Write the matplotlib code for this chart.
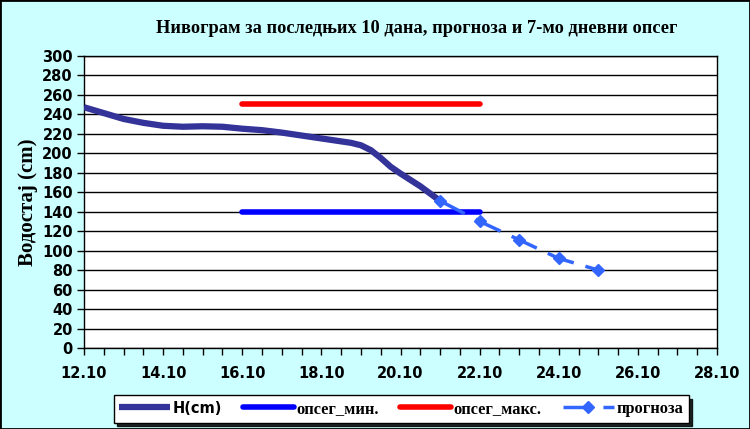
import matplotlib
matplotlib.use("Agg")
import matplotlib.pyplot as plt
from matplotlib.patches import Rectangle
from matplotlib.ticker import MultipleLocator, FuncFormatter

# Подаци (дан у октобру)
h_days = [12.0, 12.5, 13.0, 13.5, 14.0, 14.5, 15.0, 15.5, 16.0, 16.5,
          17.0, 17.5, 18.0, 18.5, 18.75, 19.0, 19.25, 19.5, 19.75, 20.0,
          20.5, 21.0]
h_values = [247, 241, 235, 231, 228, 227, 227.5, 227, 225, 223.5,
            221, 218, 215, 212, 210.5, 208, 203, 195, 186, 179,
            166, 151]

range_days = [16, 22]
range_min = [140, 140]
range_max = [250, 250]

forecast_days = [21, 22, 23, 24, 25]
forecast_values = [151, 130, 111, 92, 80]

bg = "#CCFFFF"
fig = plt.figure(figsize=(7.5, 4.29), dpi=100, facecolor=bg)
fig.patches.append(Rectangle((0, 0), 1, 1, transform=fig.transFigure,
                             fill=False, edgecolor="black", lw=2))
ax = fig.add_axes([0.112, 0.1885, 0.844, 0.682])
ax.set_facecolor("white")

ax.plot(h_days, h_values, color="#333399", lw=4.5, solid_capstyle="butt",
        solid_joinstyle="round", label="H(cm)", zorder=4)
ax.plot(range_days, range_min, color="#0000FF", lw=4, solid_capstyle="round",
        label="опсег_мин.", zorder=3)
ax.plot(range_days, range_max, color="#FF0000", lw=4, solid_capstyle="round",
        label="опсег_макс.", zorder=3)
ax.plot(forecast_days, forecast_values, color="#3366FF", lw=2.5,
        dashes=(8, 3.5), marker="D", markersize=6, label="прогноза", zorder=5)

ax.set_xlim(12, 28)
ax.set_ylim(0, 300)
ax.xaxis.set_major_locator(MultipleLocator(2))
ax.xaxis.set_minor_locator(MultipleLocator(0.5))
ax.xaxis.set_major_formatter(FuncFormatter(lambda v, p: f"{int(v)}.10"))
ax.yaxis.set_major_locator(MultipleLocator(20))
ax.grid(axis="y", color="black", lw=1)
ax.set_axisbelow(True)
for s in ax.spines.values():
    s.set_color("black")
    s.set_linewidth(1)
ax.tick_params(axis="both", which="both", direction="out", length=5,
               width=1, colors="black")
ax.tick_params(axis="x", pad=8)
ax.tick_params(axis="y", pad=3)
for lbl in ax.get_xticklabels() + ax.get_yticklabels():
    lbl.set_fontfamily("DejaVu Sans")
    lbl.set_fontweight("bold")
    lbl.set_fontsize(10.5)

ax.set_ylabel("Водостај (cm)", family="Liberation Serif", fontweight="bold",
              fontsize=15, labelpad=3)

fig.text(0.556, 0.934, "Нивограм за последњих 10 дана, прогноза и 7-мо дневни опсег",
         family="Liberation Serif", fontweight="bold", fontsize=13.2,
         ha="center", va="center")

leg = fig.legend(loc="center", bbox_to_anchor=(0.535, 0.047), ncol=4,
                 frameon=True, fancybox=False, edgecolor="black",
                 framealpha=1, handlelength=3.1, handletextpad=0.15,
                 columnspacing=1.3, borderpad=0.35,
                 shadow={"ox": 2.5, "oy": -2.5, "color": "black", "alpha": 0.85},
                 prop={"family": "Liberation Serif", "weight": "bold", "size": 11.8})
leg.get_frame().set_linewidth(1)
leg.get_texts()[0].set_fontfamily("DejaVu Sans")
leg.get_texts()[0].set_fontsize(10.5)

fig.savefig("out.png", dpi=100, facecolor=bg)
